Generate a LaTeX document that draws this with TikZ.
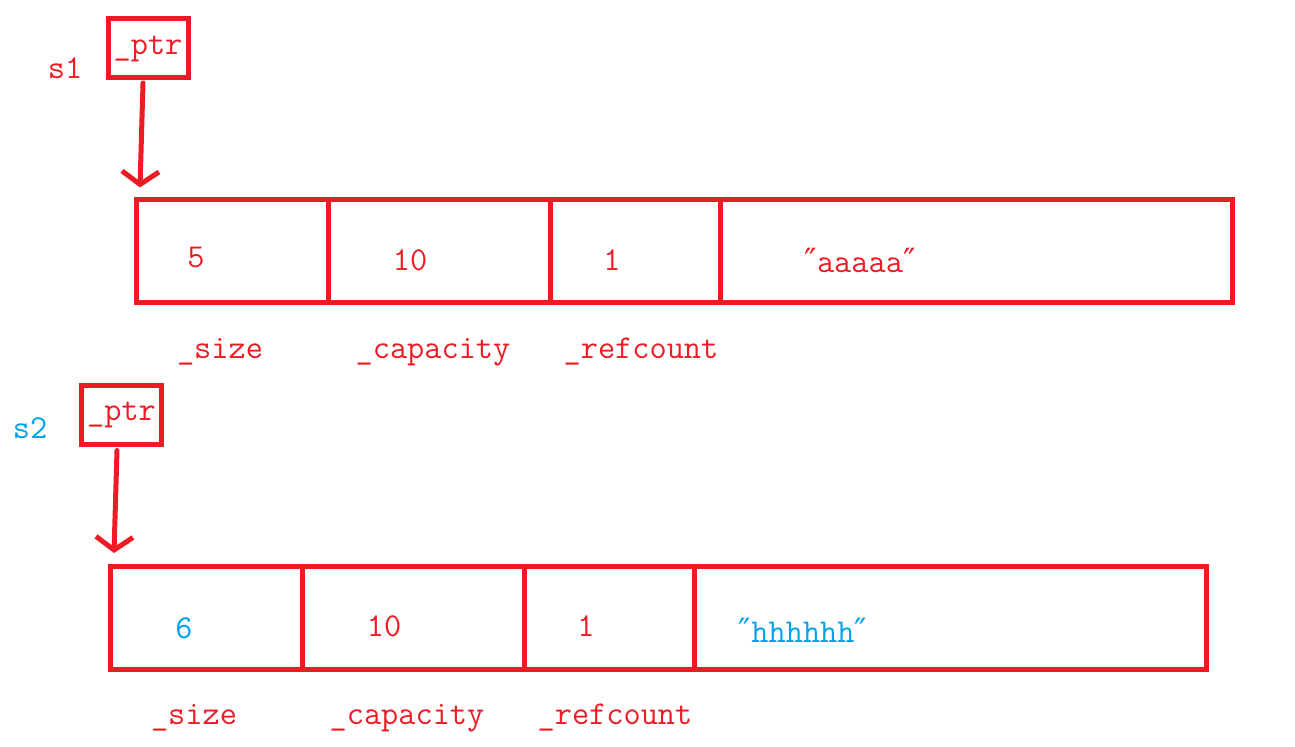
\documentclass[tikz,border=0pt]{standalone}
\usepackage{fontspec}
\usetikzlibrary{arrows.meta,positioning}
\newfontfamily\dqfont{DejaVu Serif}
\definecolor{pen}{HTML}{ED1C24}
\definecolor{pentwo}{HTML}{00A2E8}
\newcommand{\dq}{{\dqfont ″}}

\begin{document}
\begin{tikzpicture}[
	cell/.style={draw=pen,line width=1mm,minimum height=2.06cm,inner sep=0pt,outer sep=0pt},
	ptrbox/.style={cell,minimum width=1.6cm,minimum height=1.18cm},
	txt/.style={text=pen,font=\ttfamily\fontsize{19}{19}\selectfont,inner sep=0pt},
	ptrarrow/.style={draw=pen,line width=1mm,line cap=round,-{Straight Barb[length=2.6mm,width=7.4mm]}}
]
	\useasboundingbox (0,0) rectangle (25.9,14.92);
	% s1
	\node[txt] (s1) at (1.3,13.56) {s1};
	\node[ptrbox,txt] (ptr1) at (2.96,13.95) {\_ptr};
	\node[cell,minimum width=3.84cm] (size1) at (4.64,9.9) {};
	\node[cell,minimum width=4.44cm,right=0pt of size1] (cap1) {};
	\node[cell,minimum width=3.4cm,right=0pt of cap1] (ref1) {};
	\node[cell,minimum width=10.24cm,right=0pt of ref1] (str1) {};
	\draw[ptrarrow] ([xshift=-1mm,yshift=-1mm]ptr1.south) -- ([xshift=0.8mm,yshift=2.4mm]size1.north west);
	\node[txt] (v1) at (3.92,9.76) {5};
	\node[txt] (c1) at (8.2,9.72) {10};
	\node[txt] (r1) at (12.24,9.72) {1};
	\node[txt] (a1) at (17.2,9.72) {\dq aaaaa\dq};
	\node[txt] (l1) at (4.4,7.88) {\_size};
	\node[txt] (l2) at (8.66,7.88) {\_capacity};
	\node[txt] (l3) at (12.82,7.88) {\_refcount};
	% s2
	\node[txt,text=pentwo] (s2) at (0.6,6.36) {s2};
	\node[ptrbox,txt] (ptr2) at (2.43,6.62) {\_ptr};
	\node[cell,minimum width=3.84cm] (size2) at (4.12,2.57) {};
	\node[cell,minimum width=4.44cm,right=0pt of size2] (cap2) {};
	\node[cell,minimum width=3.4cm,right=0pt of cap2] (ref2) {};
	\node[cell,minimum width=10.24cm,right=0pt of ref2] (str2) {};
	\draw[ptrarrow] ([xshift=-0.9mm,yshift=-1.2mm]ptr2.south) -- ([xshift=0.8mm,yshift=2.6mm]size2.north west);
	\node[txt,text=pentwo] (v2) at (3.68,2.36) {6};
	\node[txt] (c2) at (7.68,2.4) {10};
	\node[txt] (r2) at (11.72,2.4) {1};
	\node[txt,text=pentwo] (a2) at (16.06,2.32) {\dq hhhhhh\dq};
	\node[txt] (l4) at (3.88,0.56) {\_size};
	\node[txt] (l5) at (8.14,0.56) {\_capacity};
	\node[txt] (l6) at (12.3,0.56) {\_refcount};
\end{tikzpicture}
\end{document}
